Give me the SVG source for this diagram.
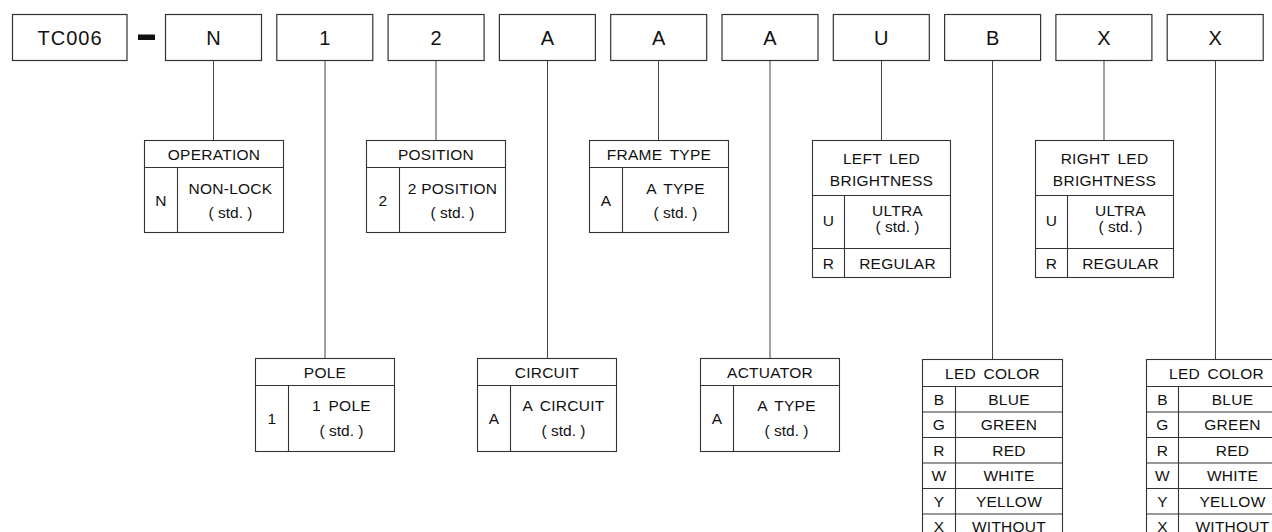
<svg xmlns="http://www.w3.org/2000/svg" width="1272" height="532" viewBox="0 0 1272 532">
<style>
  .box{fill:#fff;stroke:#333;stroke-width:1.2}
  .tb{fill:#fff;stroke:#333;stroke-width:1.1}
  .ln{stroke:#333;stroke-width:1.1;fill:none}
  .con{stroke:#444;stroke-width:1;fill:none}
  text{font-family:"Liberation Sans",Arial,Helvetica,sans-serif;fill:#111;text-anchor:middle}
  .big{font-size:20px;letter-spacing:1px}
  .t{font-size:15.5px;letter-spacing:0.25px}
  .ws{word-spacing:3px}
  .std{letter-spacing:0px}
</style>
<rect width="1272" height="532" fill="#fff"/>

<g id="connectors">
  <line class="con" x1="213.5" y1="60.5" x2="213.5" y2="140.5"/>
  <line class="con" x1="325" y1="60.5" x2="325" y2="358.5"/>
  <line class="con" x1="436" y1="60.5" x2="436" y2="140.5"/>
  <line class="con" x1="547.5" y1="60.5" x2="547.5" y2="358.5"/>
  <line class="con" x1="658.5" y1="60.5" x2="658.5" y2="140.5"/>
  <line class="con" x1="770" y1="60.5" x2="770" y2="358.5"/>
  <line class="con" x1="881.5" y1="60.5" x2="881.5" y2="140.5"/>
  <line class="con" x1="992.5" y1="60.5" x2="992.5" y2="359.5"/>
  <line class="con" x1="1104" y1="60.5" x2="1104" y2="140.5"/>
  <line class="con" x1="1215.5" y1="60.5" x2="1215.5" y2="359.5"/>
</g>

<g id="code-TC006"><rect class="box" x="12.5" y="14.5" width="114.5" height="46"/><text class="big" x="70" y="44.5">TC006</text></g>
<g id="dash"><rect x="138" y="34.5" width="17" height="5.5" fill="#111"/></g>
<g id="code-N"><rect class="box" x="165.5" y="14.5" width="96" height="46"/><text class="big" x="214" y="44.5">N</text></g>
<g id="code-1"><rect class="box" x="276.8" y="14.5" width="96" height="46"/><text class="big" x="325.3" y="44.5">1</text></g>
<g id="code-2"><rect class="box" x="388.1" y="14.5" width="96" height="46"/><text class="big" x="436.6" y="44.5">2</text></g>
<g id="code-A1"><rect class="box" x="499.4" y="14.5" width="96" height="46"/><text class="big" x="547.9" y="44.5">A</text></g>
<g id="code-A2"><rect class="box" x="610.7" y="14.5" width="96" height="46"/><text class="big" x="659.2" y="44.5">A</text></g>
<g id="code-A3"><rect class="box" x="722" y="14.5" width="96" height="46"/><text class="big" x="770.5" y="44.5">A</text></g>
<g id="code-U"><rect class="box" x="833.3" y="14.5" width="96" height="46"/><text class="big" x="881.8" y="44.5">U</text></g>
<g id="code-B"><rect class="box" x="944.6" y="14.5" width="96" height="46"/><text class="big" x="993.1" y="44.5">B</text></g>
<g id="code-X1"><rect class="box" x="1055.9" y="14.5" width="96" height="46"/><text class="big" x="1104.4" y="44.5">X</text></g>
<g id="code-X2"><rect class="box" x="1167.2" y="14.5" width="96" height="46"/><text class="big" x="1215.7" y="44.5">X</text></g>

<g id="operation">
  <rect class="tb" x="144.5" y="140.5" width="139" height="92"/>
  <line class="ln" x1="144.5" y1="167.5" x2="283.5" y2="167.5"/>
  <line class="ln" x1="177.5" y1="167.5" x2="177.5" y2="232.5"/>
  <text class="t" x="214" y="159.5">OPERATION</text>
  <text class="t" x="161" y="205.5">N</text>
  <text class="t" x="230.5" y="193.5">NON-LOCK</text>
  <text class="t std" x="230.5" y="217.5">( std. )</text>
</g>
<g id="position">
  <rect class="tb" x="366.5" y="140.5" width="139" height="92"/>
  <line class="ln" x1="366.5" y1="167.5" x2="505.5" y2="167.5"/>
  <line class="ln" x1="399.5" y1="167.5" x2="399.5" y2="232.5"/>
  <text class="t" x="436" y="159.5">POSITION</text>
  <text class="t" x="383" y="205.5">2</text>
  <text class="t" x="452.5" y="193.5">2 POSITION</text>
  <text class="t std" x="452.5" y="217.5">( std. )</text>
</g>
<g id="frame-type">
  <rect class="tb" x="589.5" y="140.5" width="139" height="92"/>
  <line class="ln" x1="589.5" y1="167.5" x2="728.5" y2="167.5"/>
  <line class="ln" x1="622.5" y1="167.5" x2="622.5" y2="232.5"/>
  <text class="t ws" x="659" y="159.5">FRAME TYPE</text>
  <text class="t" x="606" y="205.5">A</text>
  <text class="t ws" x="675.5" y="193.5">A TYPE</text>
  <text class="t std" x="675.5" y="217.5">( std. )</text>
</g>

<g id="pole">
  <rect class="tb" x="255.5" y="358.5" width="139" height="93"/>
  <line class="ln" x1="255.5" y1="385.5" x2="394.5" y2="385.5"/>
  <line class="ln" x1="288.5" y1="385.5" x2="288.5" y2="451.5"/>
  <text class="t" x="325" y="377.5">POLE</text>
  <text class="t" x="272" y="423.5">1</text>
  <text class="t ws" x="341.5" y="411">1 POLE</text>
  <text class="t std" x="341.5" y="435.5">( std. )</text>
</g>
<g id="circuit">
  <rect class="tb" x="477.5" y="358.5" width="139" height="93"/>
  <line class="ln" x1="477.5" y1="385.5" x2="616.5" y2="385.5"/>
  <line class="ln" x1="510.5" y1="385.5" x2="510.5" y2="451.5"/>
  <text class="t" x="547" y="377.5">CIRCUIT</text>
  <text class="t" x="494" y="423.5">A</text>
  <text class="t ws" x="563.5" y="411">A CIRCUIT</text>
  <text class="t std" x="563.5" y="435.5">( std. )</text>
</g>
<g id="actuator">
  <rect class="tb" x="700.5" y="358.5" width="139" height="93"/>
  <line class="ln" x1="700.5" y1="385.5" x2="839.5" y2="385.5"/>
  <line class="ln" x1="733.5" y1="385.5" x2="733.5" y2="451.5"/>
  <text class="t" x="770" y="377.5">ACTUATOR</text>
  <text class="t" x="717" y="423.5">A</text>
  <text class="t ws" x="786.5" y="411">A TYPE</text>
  <text class="t std" x="786.5" y="435.5">( std. )</text>
</g>

<g id="left-led-brightness">
  <rect class="tb" x="812.5" y="140.5" width="138" height="137"/>
  <line class="ln" x1="812.5" y1="195.5" x2="950.5" y2="195.5"/>
  <line class="ln" x1="812.5" y1="248.5" x2="950.5" y2="248.5"/>
  <line class="ln" x1="844.5" y1="195.5" x2="844.5" y2="277.5"/>
  <text class="t ws" x="881.5" y="164">LEFT LED</text>
  <text class="t" x="881.5" y="186">BRIGHTNESS</text>
  <text class="t" x="828.5" y="226">U</text>
  <text class="t" x="897.5" y="216">ULTRA</text>
  <text class="t std" x="897.5" y="232">( std. )</text>
  <text class="t" x="828.5" y="268.5">R</text>
  <text class="t" x="897.5" y="268.5">REGULAR</text>
</g>
<g id="right-led-brightness">
  <rect class="tb" x="1035.5" y="140.5" width="138" height="137"/>
  <line class="ln" x1="1035.5" y1="195.5" x2="1173.5" y2="195.5"/>
  <line class="ln" x1="1035.5" y1="248.5" x2="1173.5" y2="248.5"/>
  <line class="ln" x1="1067.5" y1="195.5" x2="1067.5" y2="277.5"/>
  <text class="t ws" x="1104.5" y="164">RIGHT LED</text>
  <text class="t" x="1104.5" y="186">BRIGHTNESS</text>
  <text class="t" x="1051.5" y="226">U</text>
  <text class="t" x="1120.5" y="216">ULTRA</text>
  <text class="t std" x="1120.5" y="232">( std. )</text>
  <text class="t" x="1051.5" y="268.5">R</text>
  <text class="t" x="1120.5" y="268.5">REGULAR</text>
</g>

<g id="left-led-color">
  <rect class="tb" x="922.5" y="359.5" width="140" height="182"/>
  <line class="ln" x1="922.5" y1="386.5" x2="1062.5" y2="386.5"/>
  <line class="ln" x1="922.5" y1="412" x2="1062.5" y2="412"/>
  <line class="ln" x1="922.5" y1="437.5" x2="1062.5" y2="437.5"/>
  <line class="ln" x1="922.5" y1="463" x2="1062.5" y2="463"/>
  <line class="ln" x1="922.5" y1="488.5" x2="1062.5" y2="488.5"/>
  <line class="ln" x1="922.5" y1="514" x2="1062.5" y2="514"/>
  <line class="ln" x1="955.5" y1="386.5" x2="955.5" y2="541.5"/>
  <text class="t ws" x="992.5" y="378.5">LED COLOR</text>
  <text class="t" x="939" y="404.5">B</text><text class="t" x="1009" y="404.5">BLUE</text>
  <text class="t" x="939" y="430">G</text><text class="t" x="1009" y="430">GREEN</text>
  <text class="t" x="939" y="455.5">R</text><text class="t" x="1009" y="455.5">RED</text>
  <text class="t" x="939" y="481">W</text><text class="t" x="1009" y="481">WHITE</text>
  <text class="t" x="939" y="506.5">Y</text><text class="t" x="1009" y="506.5">YELLOW</text>
  <text class="t" x="939" y="531.5">X</text><text class="t" x="1009" y="531.5">WITHOUT</text>
</g>
<g id="right-led-color">
  <rect class="tb" x="1146.5" y="359.5" width="140" height="182"/>
  <line class="ln" x1="1146.5" y1="386.5" x2="1286.5" y2="386.5"/>
  <line class="ln" x1="1146.5" y1="412" x2="1286.5" y2="412"/>
  <line class="ln" x1="1146.5" y1="437.5" x2="1286.5" y2="437.5"/>
  <line class="ln" x1="1146.5" y1="463" x2="1286.5" y2="463"/>
  <line class="ln" x1="1146.5" y1="488.5" x2="1286.5" y2="488.5"/>
  <line class="ln" x1="1146.5" y1="514" x2="1286.5" y2="514"/>
  <line class="ln" x1="1178.5" y1="386.5" x2="1178.5" y2="541.5"/>
  <text class="t ws" x="1216.5" y="378.5">LED COLOR</text>
  <text class="t" x="1162.5" y="404.5">B</text><text class="t" x="1232.5" y="404.5">BLUE</text>
  <text class="t" x="1162.5" y="430">G</text><text class="t" x="1232.5" y="430">GREEN</text>
  <text class="t" x="1162.5" y="455.5">R</text><text class="t" x="1232.5" y="455.5">RED</text>
  <text class="t" x="1162.5" y="481">W</text><text class="t" x="1232.5" y="481">WHITE</text>
  <text class="t" x="1162.5" y="506.5">Y</text><text class="t" x="1232.5" y="506.5">YELLOW</text>
  <text class="t" x="1162.5" y="531.5">X</text><text class="t" x="1232.5" y="531.5">WITHOUT</text>
</g>
</svg>
